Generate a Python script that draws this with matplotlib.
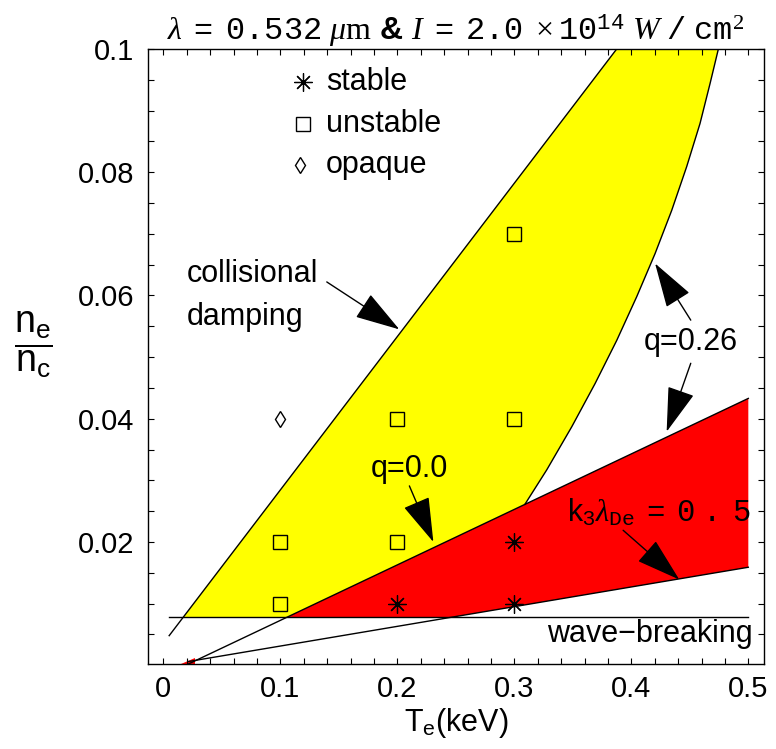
import numpy as np
import matplotlib as mpl
mpl.use("Agg")
import matplotlib.pyplot as plt

plt.rcParams['font.family'] = ['Liberation Sans', 'DejaVu Sans']
plt.rcParams['mathtext.fontset'] = 'custom'
plt.rcParams['mathtext.rm'] = 'Liberation Serif'
plt.rcParams['mathtext.it'] = 'Liberation Serif:italic'
plt.rcParams['mathtext.bf'] = 'Liberation Sans:bold'
plt.rcParams['mathtext.tt'] = 'Liberation Mono'
plt.rcParams['mathtext.sf'] = 'Liberation Sans'

# boundaries (Te in keV, ne/nc)
wave_y = 0.0078
wave_x = [0.005, 0.5]
coll_x = [0.005, 0.3875]
coll_y = [0.0048, 0.1]
q0_x = [0.0214, 0.5]
q0_y = [0.0002, 0.0433]
k3_x = [0.0214, 0.5]
k3_y = [0.0006, 0.0159]
q26_x = [0.309, 0.3277, 0.3491, 0.3690, 0.3875, 0.4046, 0.4203, 0.4345, 0.4473, 0.4587, 0.4673, 0.4744]
q26_y = [0.0261, 0.0317, 0.0387, 0.0457, 0.0527, 0.0598, 0.0668, 0.0738, 0.0809, 0.0879, 0.0944, 0.1]
patch_x = [0.015, 0.027, 0.027]
patch_y = [0.0002, 0.0002, 0.0011]

# simulation points
stable_x = [0.2, 0.3, 0.3]
stable_y = [0.01, 0.01, 0.02]
unstable_x = [0.1, 0.1, 0.2, 0.2, 0.3, 0.3]
unstable_y = [0.01, 0.02, 0.02, 0.04, 0.04, 0.07]
opaque_x = [0.1]
opaque_y = [0.04]

legend_labels = ['stable', 'unstable', 'opaque']
x_ticks = [0, 0.1, 0.2, 0.3, 0.4, 0.5]
x_ticklabels = ['0', '0.1', '0.2', '0.3', '0.4', '0.5']
y_ticks = [0.02, 0.04, 0.06, 0.08, 0.1]
y_ticklabels = ['0.02', '0.04', '0.06', '0.08', '0.1']

star = (8, 2, 0)

fig = plt.figure(figsize=(7.76, 7.49), dpi=100)
ax = fig.add_axes([148/776, 85/749, 616/776, 615/749])

# yellow region
xa = np.interp(wave_y, coll_y, coll_x)
xb = np.interp(wave_y, q0_y, q0_x)
yel_x = [xa, coll_x[1], q26_x[-1]] + q26_x[::-1] + [xb]
yel_y = [wave_y, coll_y[1], q26_y[-1]] + q26_y[::-1] + [wave_y]
ax.fill(yel_x, yel_y, color='#ffff00', lw=0, zorder=1)

# red region
xc = np.interp(wave_y, k3_y, k3_x)
red_x = [xb, q0_x[1], k3_x[1], xc]
red_y = [wave_y, q0_y[1], k3_y[1], wave_y]
ax.fill(red_x, red_y, color='#ff0000', lw=0, zorder=1)
ax.fill(patch_x, patch_y, color='#ff0000', lw=0, zorder=1)

lw = 1.0
ax.plot(wave_x, [wave_y, wave_y], color='black', lw=lw, zorder=2)
ax.plot(coll_x, coll_y, color='black', lw=lw, zorder=2)
ax.plot(q0_x, q0_y, color='black', lw=lw, zorder=2)
ax.plot(k3_x, k3_y, color='black', lw=lw, zorder=2)
ax.plot(q26_x, q26_y, color='black', lw=lw, zorder=2)

ax.plot(stable_x, stable_y, ls='none', marker=star, ms=13, mec='black', mew=0.9, zorder=3)
ax.plot(unstable_x, unstable_y, ls='none', marker='s', ms=10, mfc='none', mec='black', mew=1.0, zorder=3)
ax.plot(opaque_x, opaque_y, ls='none', marker='d', ms=8, mfc='none', mec='black', mew=1.0, zorder=3)

# hand-placed legend
leg_y = [0.0946, 0.0879, 0.0811]
ax.plot(0.1197, leg_y[0], marker=star, ms=13, mec='black', mew=0.9)
ax.plot(0.1197, leg_y[1], marker='s', ms=10, mfc='none', mec='black', mew=1.0)
ax.plot(0.117, leg_y[2], marker='d', ms=8, mfc='none', mec='black', mew=1.0)
for lab, yy in zip(legend_labels, leg_y):
    ax.text(0.139, yy, lab, fontsize=22, va='center', ha='left')

arw = dict(arrowstyle='-|>,head_length=1.3,head_width=0.4', mutation_scale=22,
           color='black', lw=1.0, shrinkA=0, shrinkB=0)
fs = 22
ax.text(0.02, 0.0635, 'collisional', fontsize=fs, va='center')
ax.text(0.02, 0.0565, 'damping', fontsize=fs, va='center')
ax.annotate('', xy=(0.2017, 0.0545), xytext=(0.1397, 0.0622), arrowprops=arw)

ax.text(0.451, 0.0524, 'q=0.26', fontsize=fs, ha='center', va='center')
ax.annotate('', xy=(0.4203, 0.0652), xytext=(0.4508, 0.0560), arrowprops=arw)
ax.annotate('', xy=(0.4302, 0.0379), xytext=(0.4508, 0.0490), arrowprops=arw)

ax.text(0.21, 0.0318, 'q=0.0', fontsize=fs, ha='center', va='center')
ax.annotate('', xy=(0.2308, 0.0200), xytext=(0.2103, 0.0291), arrowprops=arw)

ax.text(0.345, 0.0247, r'$\mathsf{k}_{\mathsf{3}}\lambda_{\mathtt{De}}\ \mathtt{=\ 0\ .\ 5}$',
        fontsize=fs, ha='left', va='center')
ax.annotate('', xy=(0.441, 0.0139), xytext=(0.393, 0.0219), arrowprops=arw)

ax.text(0.504, 0.0051, 'wave\u2212breaking', fontsize=fs, ha='right', va='center')

ax.set_xlim(-0.0131, 0.5134)
ax.set_ylim(0.0002, 0.1)
ax.set_xticks(x_ticks)
ax.set_xticklabels(x_ticklabels)
ax.set_yticks(y_ticks)
ax.set_yticklabels(y_ticklabels)
ax.set_xticks(np.arange(0, 0.51, 0.02), minor=True)
ax.set_yticks(np.arange(0.005, 0.1, 0.005), minor=True)
ax.tick_params(which='both', direction='in', top=True, right=True, length=4, width=0.8)
ax.tick_params(axis='both', which='major', labelsize=21)
ax.tick_params(axis='x', pad=8)
ax.tick_params(axis='y', pad=10)
for s in ax.spines.values():
    s.set_linewidth(1.0)

ax.set_title(r'$\lambda\ \mathtt{=\ 0.532}\ \mu\mathrm{m}$ & $I\ \mathtt{=\ 2.0}\ \times\mathtt{10}^{\mathtt{14}}\ W\ \mathtt{/\ cm}^{\mathrm{2}}$',
             fontsize=23, pad=6, fontweight='bold')
ax.set_xlabel(r'T$_{\mathsf{e}}$(keV)', fontsize=22, labelpad=2)
fig.text(33/776, 1 - 345/749, r'$\dfrac{\mathsf{n_e}}{\mathsf{n_c}}$', fontsize=27,
         ha='center', va='center')

fig.savefig('out.png', dpi=100)
